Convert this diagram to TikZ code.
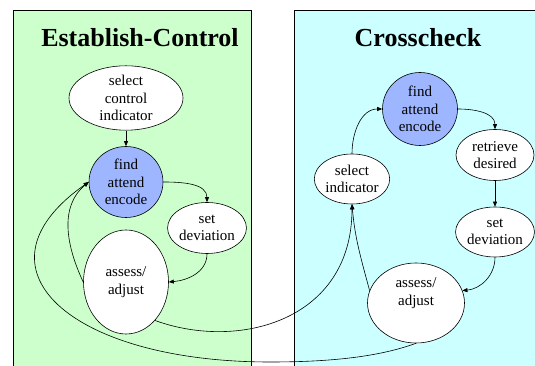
\documentclass[tikz,border=0pt]{standalone}
\usepackage{fontspec}
\setmainfont{Liberation Serif}
\usetikzlibrary{positioning,shapes.geometric,arrows.meta}
\definecolor{ecgreen}{RGB}{204,255,204}
\definecolor{cccyan}{RGB}{204,255,255}
\definecolor{focusblue}{RGB}{158,182,255}
\tikzset{
	act/.style={ellipse,draw,fill=white,inner sep=0pt,align=center,font=\fontsize{15}{17.5}\selectfont},
	focus/.style={act,fill=focusblue},
	panel/.style={draw,line width=0.6pt},
	ttl/.style={font=\fontsize{26}{30}\selectfont\bfseries}
}

\begin{document}
\begin{tikzpicture}[x=1pt,y=1pt,node distance=2cm,on grid,semithick,>={Triangle[length=5pt,width=4pt]}]
	\useasboundingbox (0,0) rectangle (535,366);
	\clip (0,0) rectangle (535,366);
	\path[panel,fill=ecgreen]	(13,356) rectangle (251,-10);
	\path[panel,fill=cccyan]	(294,356) rectangle (545,-10);
	\node[ttl]	(ttlL)	at (140,328)	{Establish-Control};
	\node[ttl]	(ttlR)	at (418,328)	{Crosscheck};

	% Establish-Control
	\node[act,minimum width=114pt,minimum height=54pt]	(selC)	at (126,268)	{select\\control\\indicator};
	\node[focus,minimum width=74pt,minimum height=71pt]	(faeL)	[below=84pt of selC]	{find\\attend\\encode};
	\node[act,minimum width=73pt,minimum height=51pt]	(setL)	[below right=46pt and 81pt of faeL]	{set\\deviation};
	\node[act,minimum width=85pt,minimum height=104pt]	(assL)	[below=100pt of faeL]	{assess/\\adjust};

	% Crosscheck
	\node[focus,minimum width=75pt,minimum height=73pt]	(faeR)	at (420,257)	{find\\attend\\encode};
	\node[act,minimum width=78pt,minimum height=51pt]	(retR)	[below right=46pt and 75pt of faeR]	{retrieve\\desired};
	\node[act,minimum width=71pt,minimum height=50pt]	(selR)	[below left=70pt and 68pt of faeR]	{select\\indicator};
	\node[act,minimum width=75pt,minimum height=50pt]	(setR)	[below=77pt of retR]	{set\\deviation};
	\node[act,minimum width=97pt,minimum height=80pt,text depth=23pt]	(assR)	[below left=71pt and 79pt of setR]	{assess/\\adjust};

	\path[->]
		(selC)		edge	(faeL)
		(faeL.east)	edge[out=0,in=90]	(setL.north)
		(setL.south)	edge[out=-90,in=5]	(assL.east)
		(assL.west)	edge[out=115,in=220]	(faeL.west)
		(faeR.east)	edge[out=0,in=90]	(retR.north)
		(retR)		edge	(setR)
		(setR.south)	edge[out=-90,in=5]	(assR.15)
		(assR.165)	edge[out=105,in=-85]	(selR.south)
		(selR.north)	edge[out=90,in=180]	(faeR.west)
		(assL.-53)	edge[out=-20,in=-90,in looseness=1.3]	(selR.south)
		;
	\coordinate (dip) at (270,4);
	\draw[->] (assR.south) .. controls +(200:40) and +(0:60) .. (dip)
		.. controls +(-200,0) and +(215:150) .. (faeL.west);
\end{tikzpicture}
\end{document}
